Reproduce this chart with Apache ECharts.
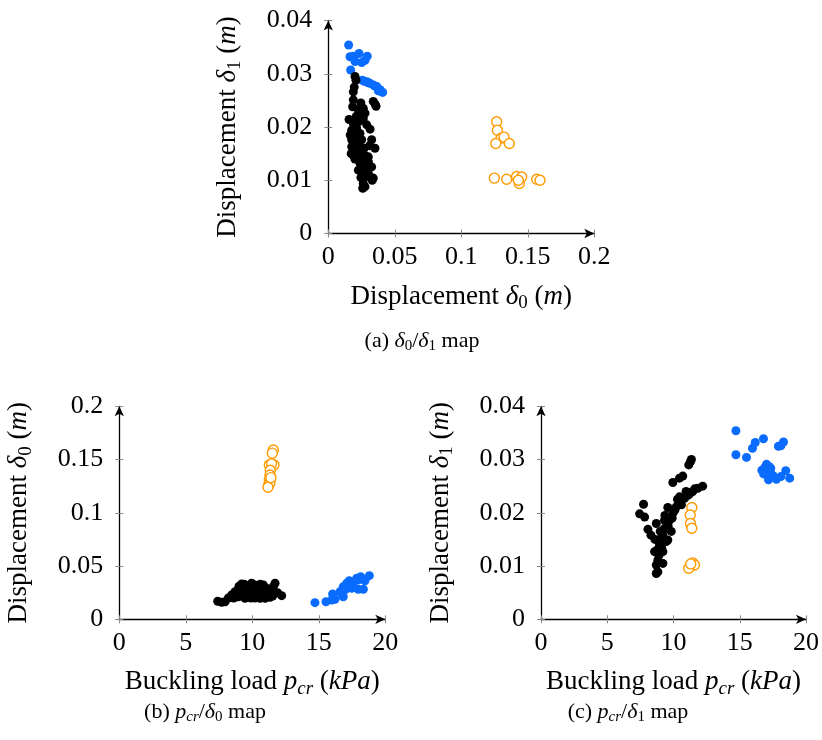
<!DOCTYPE html>
<html><head><meta charset="utf-8">
<script src="https://cdn.jsdelivr.net/npm/echarts@6/dist/echarts.min.js"></script>
<style>html,body{margin:0;padding:0;background:#fff}#c{width:822px;height:740px}</style>
</head><body><div id="c"></div>
<script>
// ---------- tick labels ----------
const ticksD0 = ['0', '0.05', '0.1', '0.15', '0.2'];
const ticksD1 = ['0', '0.01', '0.02', '0.03', '0.04'];
const ticksP = ['0', '5', '10', '15', '20'];

// ---------- (a) delta0 / delta1 ----------
const aBlue = [[0.0153,0.0354],[0.0168,0.0307],[0.0163,0.0332],[0.0188,0.0333],[0.0201,0.0323],[0.0231,0.0338],[0.0251,0.0321],[0.0293,0.0333],[0.0276,0.0325],[0.0256,0.0288],[0.0270,0.0286],[0.0289,0.0285],[0.0300,0.0283],[0.0314,0.0282],[0.0338,0.0279],[0.0350,0.0277],[0.0364,0.0276],[0.0376,0.0268],[0.0389,0.0270],[0.0400,0.0266],[0.0409,0.0265]];
const aBlack = [[0.0201,0.0295],[0.0208,0.0288],[0.0188,0.0266],[0.0188,0.0251],[0.0183,0.0238],[0.0226,0.0232],[0.0338,0.0248],[0.0359,0.0239],[0.0352,0.0243],[0.0263,0.0235],[0.0251,0.0223],[0.0276,0.0226],[0.0263,0.0216],[0.0289,0.0204],[0.0156,0.0214],[0.0213,0.0198],[0.0176,0.0194],[0.0238,0.0188],[0.0314,0.0196],[0.0326,0.0176],[0.0176,0.0176],[0.0201,0.0166],[0.0176,0.0163],[0.0238,0.0160],[0.0188,0.0147],[0.0226,0.0144],[0.0351,0.0160],[0.0301,0.0144],[0.0263,0.0138],[0.0238,0.0132],[0.0326,0.0125],[0.0276,0.0122],[0.0251,0.0116],[0.0301,0.0113],[0.0263,0.0107],[0.0338,0.0104],[0.0330,0.0100],[0.0263,0.0094],[0.0259,0.0085],[0.0276,0.0088],[0.0213,0.0182],[0.0188,0.0157],[0.0226,0.0154],[0.0251,0.0176],[0.0301,0.0135],[0.0226,0.0119],[0.0289,0.0107],[0.0200,0.0185],[0.0215,0.0170],[0.0240,0.0150],[0.0270,0.0160],[0.0285,0.0130],[0.0255,0.0125],[0.0245,0.0105],[0.0295,0.0120],[0.0190,0.0205],[0.0230,0.0210],[0.0210,0.0220],[0.0200,0.0140],[0.0280,0.0145],[0.0165,0.0185],[0.0172,0.0150],[0.0310,0.0165],[0.0245,0.0245],[0.0195,0.0275]];
const aOrange = [[0.1266,0.0210],[0.1271,0.0194],[0.1299,0.0179],[0.1321,0.0181],[0.1259,0.0169],[0.1361,0.0169],[0.1248,0.0104],[0.1341,0.0102],[0.1416,0.0107],[0.1436,0.0094],[0.1454,0.0106],[0.1429,0.0100],[0.1567,0.0102],[0.1592,0.0100]];

// ---------- (b) pcr / delta0 ----------
const bBlack = [[7.4,0.0170],[7.7,0.0160],[7.95,0.0165],[8.2,0.0200],[8.45,0.0228],[8.7,0.0259],[8.95,0.0282],[9.2,0.0331],[9.32,0.0244],[9.58,0.0291],[9.83,0.0212],[9.95,0.0338],[10.08,0.0259],[10.33,0.0207],[10.45,0.0291],[10.71,0.0244],[10.83,0.0322],[10.96,0.0197],[11.21,0.0259],[11.33,0.0207],[11.58,0.0306],[11.71,0.0338],[11.53,0.0219],[12.21,0.0222],[10.2,0.0322],[9.45,0.0197],[8.95,0.0212],[10.58,0.0197],[11.08,0.0291],[9.2,0.0244],[9.0,0.0310],[9.4,0.0330],[8.6,0.0200],[9.7,0.0260],[10.0,0.0230],[10.3,0.0270],[10.9,0.0230],[11.4,0.0250],[11.9,0.0250],[9.9,0.0200],[10.6,0.0330],[8.8,0.0240],[9.5,0.0220],[11.0,0.0210],[10.2,0.0200]];
const bBlue = [[14.71,0.0156],[15.54,0.0165],[16.04,0.0238],[15.97,0.0181],[16.22,0.0188],[16.72,0.0244],[16.84,0.0306],[17.1,0.0338],[17.29,0.0362],[17.85,0.0385],[18.15,0.0400],[18.8,0.0410],[17.97,0.0282],[18.35,0.0282],[18.47,0.0362],[17.47,0.0291],[16.84,0.0212],[17.0,0.0280],[17.3,0.0320],[17.6,0.0340],[18.0,0.0370],[16.6,0.0260]];
const bOrange = [[11.58,0.159],[11.5,0.156],[11.28,0.145],[11.63,0.145],[11.45,0.146],[11.35,0.140],[11.33,0.1355],[11.28,0.131],[11.23,0.126],[11.33,0.128],[11.18,0.124],[11.4,0.133]];

// ---------- (c) pcr / delta1 ----------
const cBlack = [[11.28,0.0296],[11.35,0.0300],[11.15,0.0290],[10.70,0.0269],[10.45,0.0265],[9.95,0.0257],[12.2,0.0250],[11.83,0.0246],[11.45,0.0240],[11.08,0.0233],[10.83,0.0227],[10.45,0.0221],[10.2,0.0211],[9.57,0.0210],[7.74,0.0216],[7.44,0.0198],[7.82,0.0192],[9.95,0.0199],[9.7,0.0186],[8.7,0.0180],[8.07,0.0169],[9.45,0.0174],[8.3,0.0158],[9.2,0.0158],[8.95,0.0143],[9.45,0.0146],[8.57,0.0127],[9.2,0.0127],[8.82,0.0111],[8.7,0.0102],[9.2,0.0105],[8.7,0.0086],[8.82,0.0089],[9.83,0.0165],[9.57,0.0149],[8.95,0.0139],[10.45,0.0230],[10.95,0.0240],[9.32,0.0186],[10.1,0.0205],[9.9,0.0190],[9.0,0.0165],[8.9,0.0120],[9.1,0.0135],[10.6,0.0215],[11.2,0.0235],[8.6,0.0150],[9.3,0.0170],[11.6,0.0245],[10.3,0.0225],[9.6,0.0175],[9.05,0.0152],[8.75,0.0130],[9.35,0.0195]];
const cBlue = [[14.71,0.0354],[14.71,0.0309],[15.51,0.0304],[15.96,0.0321],[16.17,0.0332],[16.79,0.0339],[17.92,0.0325],[18.3,0.0333],[18.1,0.0326],[16.67,0.0280],[17.02,0.0291],[17.34,0.0284],[17.09,0.0274],[17.17,0.0262],[17.77,0.0263],[18.1,0.0268],[18.47,0.0279],[18.77,0.0265],[16.9,0.0285],[17.2,0.0287],[17.5,0.0270],[16.8,0.0273],[17.3,0.0279]];
const cOrange = [[11.38,0.0210],[11.26,0.0196],[11.28,0.0180],[11.38,0.0171],[11.45,0.0106],[11.26,0.0099],[11.58,0.0102],[11.15,0.0096],[11.3,0.0104]];

// ---------- styling ----------
const FONT = '"Liberation Serif", "DejaVu Serif", serif';
const rich = {
  i: {fontFamily: FONT, fontSize: 27, lineHeight: 32, fontStyle: 'italic', color: '#000'},
  s: {fontFamily: FONT, fontSize: 19, lineHeight: 18, verticalAlign: 'bottom', color: '#000'},
  si: {fontFamily: FONT, fontSize: 19, lineHeight: 18, verticalAlign: 'bottom', fontStyle: 'italic', color: '#000'}
};
const richSmall = {
  i: {fontFamily: FONT, fontSize: 22, lineHeight: 26, fontStyle: 'italic', color: '#000'},
  s: {fontFamily: FONT, fontSize: 15, lineHeight: 14, verticalAlign: 'bottom', color: '#000'},
  si: {fontFamily: FONT, fontSize: 15, lineHeight: 14, verticalAlign: 'bottom', fontStyle: 'italic', color: '#000'}
};
const nameStyle = {fontFamily: FONT, fontSize: 27, lineHeight: 32, color: '#000', rich: rich};

function axisPair(isX, gridIndex, max, interval, labels, name) {
  const fmt = v => labels[Math.round(v / interval)];
  const main = {
    type: 'value', gridIndex, min: 0, max, interval,
    position: isX ? 'bottom' : 'left',
    axisLine: {show: true, onZero: false, lineStyle: {color: '#000', width: 1.3},
      symbol: ['none', 'arrow'], symbolSize: [7, 10]},
    axisTick: {show: true, inside: false, length: 4, lineStyle: {color: '#888', width: 1}},
    axisLabel: {formatter: fmt, fontFamily: FONT, fontSize: 26, color: '#000', margin: isX ? 11 : 16},
    splitLine: {show: false},
    name, nameLocation: 'middle', nameGap: isX ? 47 : 84,
    nameRotate: isX ? 0 : 90,
    nameTextStyle: nameStyle
  };
  const inner = {
    type: 'value', gridIndex, min: 0, max, interval,
    position: isX ? 'bottom' : 'left', offset: 0,
    axisLine: {show: false},
    axisTick: {show: true, inside: true, length: 4, lineStyle: {color: '#888', width: 1}},
    axisLabel: {show: false}, splitLine: {show: false}
  };
  return [main, inner];
}

const nameD0 = 'Displacement {i|δ}{s|0} ({i|m})';
const nameD1 = 'Displacement {i|δ}{s|1} ({i|m})';
const nameP = 'Buckling load {i|p}{si|cr} ({i|kPa})';

const xAxes = [].concat(
  axisPair(true, 0, 0.2, 0.05, ticksD0, nameD0),
  axisPair(true, 1, 20, 5, ticksP, nameP),
  axisPair(true, 2, 20, 5, ticksP, nameP)
);
const yAxes = [].concat(
  axisPair(false, 0, 0.04, 0.01, ticksD1, nameD1),
  axisPair(false, 1, 0.2, 0.05, ticksD0, nameD0),
  axisPair(false, 2, 0.04, 0.01, ticksD1, nameD1)
);

const BLACK = '#000000', BLUE = '#0a6cff', ORANGE = '#ff9a00';
function sc(g, data, kind) {
  const s = {type: 'scatter', xAxisIndex: 2 * g, yAxisIndex: 2 * g, data, symbol: 'circle', animation: false, silent: true};
  if (kind === 'o') {
    s.symbolSize = 10;
    s.itemStyle = {color: '#fff', borderColor: ORANGE, borderWidth: 1.4, opacity: 1};
  } else {
    s.symbolSize = 9;
    s.itemStyle = {color: kind === 'k' ? BLACK : BLUE, opacity: 1};
  }
  return s;
}

const titleStyle = {fontFamily: FONT, fontSize: 22, lineHeight: 26, color: '#000', fontWeight: 'normal', rich: richSmall};
const option = {
  backgroundColor: '#fff',
  animation: false,
  grid: [
    {left: 328.3, top: 20.5, width: 266, height: 213},
    {left: 119.3, top: 406.3, width: 266, height: 213},
    {left: 541, top: 406.3, width: 266, height: 213}
  ],
  title: [
    {text: '(a) {i|δ}{s|0}/{i|δ}{s|1} map', left: 422, top: 328, textAlign: 'center', textStyle: titleStyle, padding: 0},
    {text: '(b) {i|p}{si|cr}/{i|δ}{s|0} map', left: 205, top: 699, textAlign: 'center', textStyle: titleStyle, padding: 0},
    {text: '(c) {i|p}{si|cr}/{i|δ}{s|1} map', left: 628, top: 699, textAlign: 'center', textStyle: titleStyle, padding: 0}
  ],
  xAxis: xAxes,
  yAxis: yAxes,
  series: [
    sc(0, aBlue, 'b'), sc(0, aBlack, 'k'), sc(0, aOrange, 'o'),
    sc(1, bBlack, 'k'), sc(1, bBlue, 'b'), sc(1, bOrange, 'o'),
    sc(2, cBlack, 'k'), sc(2, cBlue, 'b'), sc(2, cOrange, 'o')
  ]
};
const chart = echarts.init(document.getElementById('c'), null, {renderer: 'canvas'});
chart.setOption(option);
</script>
</body></html>
